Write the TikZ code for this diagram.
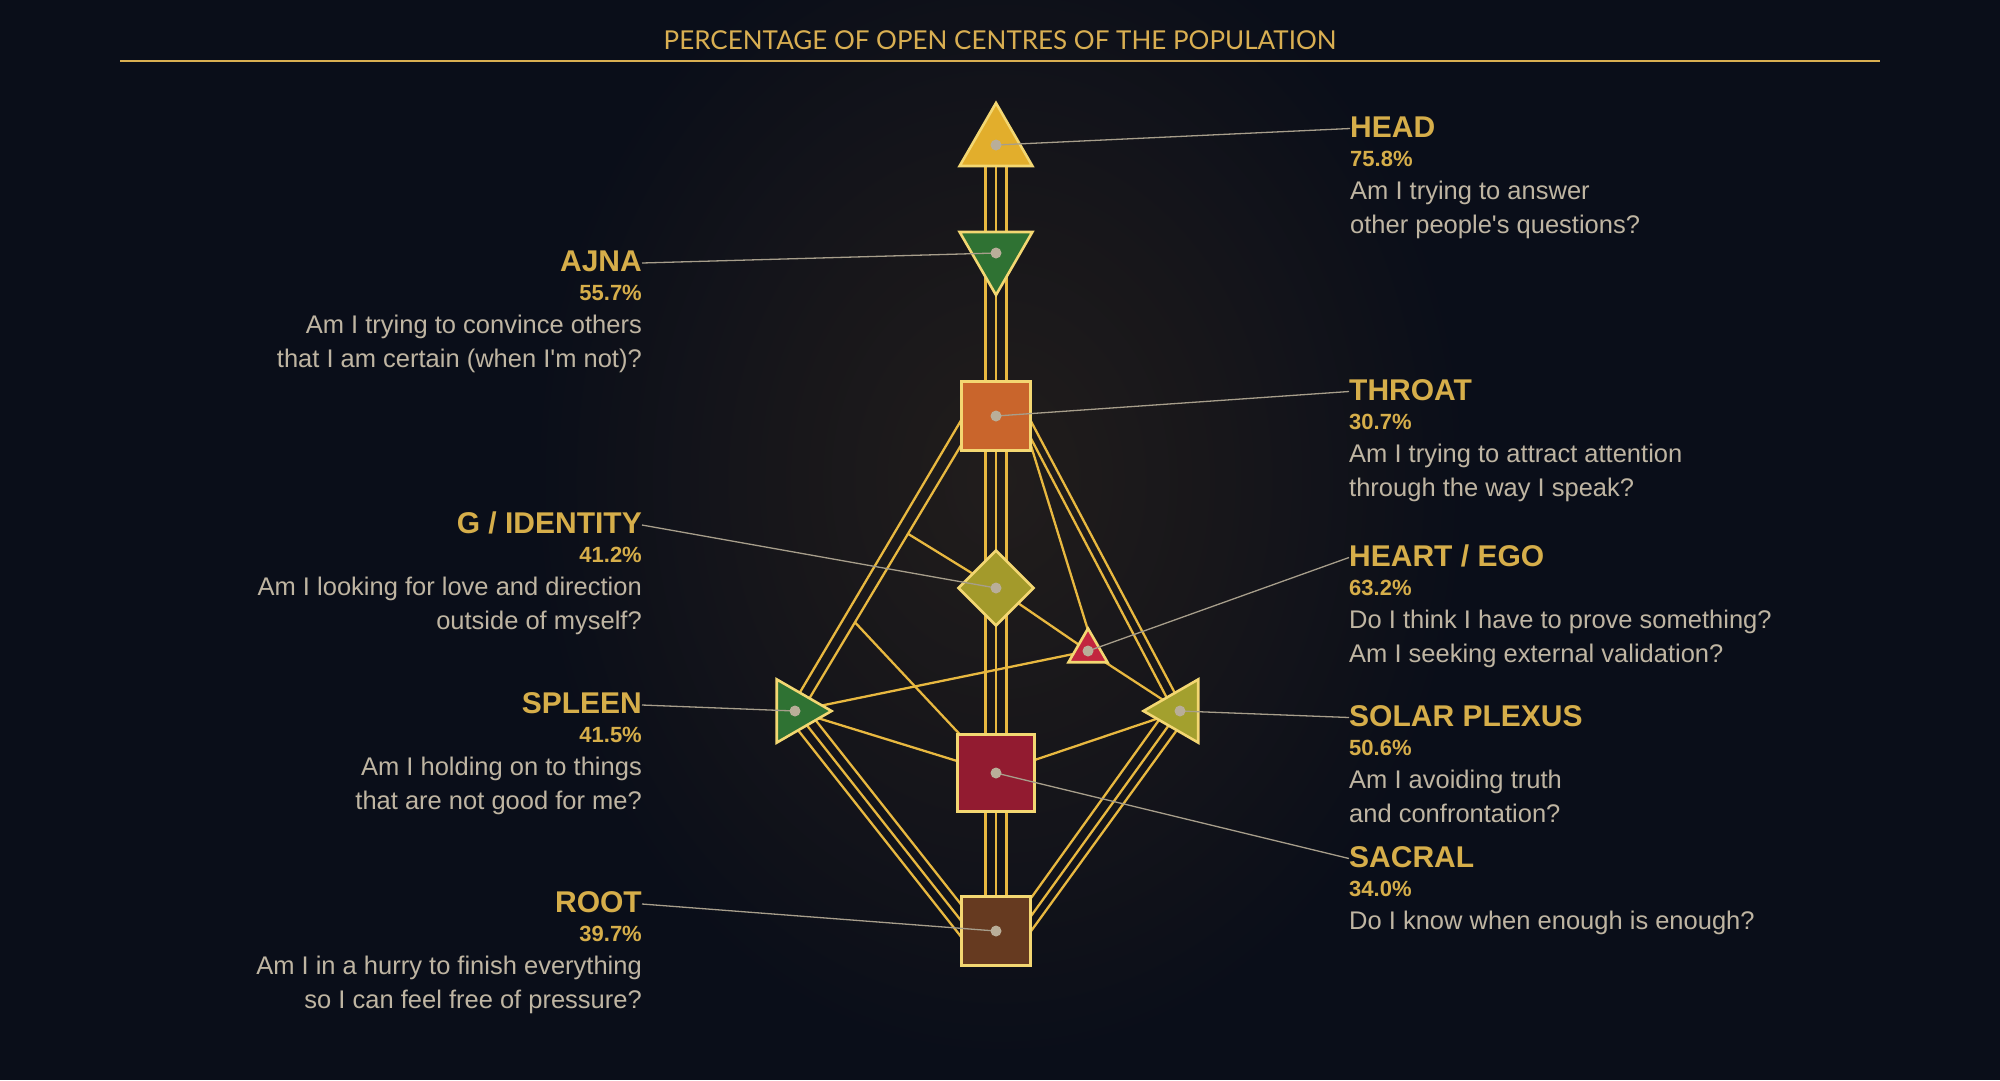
\documentclass[tikz,border=0pt]{standalone}
\usepackage{fontspec}
\newfontfamily\lsans{Liberation Sans}
\newfontfamily\latofont{Lato}
\usetikzlibrary{shapes.geometric,calc}
\definecolor{bgc}{HTML}{0A0E19}
\definecolor{glowc}{HTML}{211D1C}
\definecolor{glowm}{HTML}{17161A}
\definecolor{goldc}{HTML}{D6AE4A}
\definecolor{titc}{HTML}{D9AF52}
\definecolor{beigec}{HTML}{BFB5A2}
\definecolor{chanc}{HTML}{E8B840}
\definecolor{bordc}{HTML}{F3D772}
\definecolor{leadc}{HTML}{A79E8B}
\definecolor{dotcol}{HTML}{B9AE99}
\definecolor{headc}{HTML}{E2AE2C}
\definecolor{ajnac}{HTML}{2F7233}
\definecolor{throatc}{HTML}{C9652C}
\definecolor{gc}{HTML}{A39A2B}
\definecolor{heartc}{HTML}{C2263F}
\definecolor{spleenc}{HTML}{2F7233}
\definecolor{spc}{HTML}{A3A02E}
\definecolor{sacralc}{HTML}{921B30}
\definecolor{rootc}{HTML}{663A20}
\pgfdeclareradialshading{glow}{\pgfpoint{0bp}{0bp}}{color(0bp)=(glowc); color(12bp)=(glowm); color(25bp)=(bgc); color(50bp)=(bgc)}
\pgfdeclarelayer{back}
\pgfdeclarelayer{chan}
\pgfsetlayers{back,chan,main}
\tikzset{
  centre/.style={draw=bordc, line width=2.6pt, inner sep=0pt, outer sep=0pt},
  tri/.style={centre, regular polygon, regular polygon sides=3},
  sq/.style={centre, rectangle},
  chan/.style={draw=chanc, line width=2.3pt},
  lead/.style={draw=leadc, line width=1.3pt},
  dotc/.style={circle, fill=dotcol, inner sep=0pt, minimum size=11pt},
  ttl/.style={font=\lsans\fontsize{30}{36}\selectfont\bfseries, text=goldc, inner sep=0pt},
  pct/.style={font=\lsans\fontsize{22}{26}\selectfont\bfseries, text=goldc, inner sep=0pt},
  qst/.style={font=\lsans\fontsize{25.5}{30}\selectfont, text=beigec, inner sep=0pt},
}
\newcommand{\blockR}[7]{%
  \node[ttl, anchor=base west] (#1T) at (#2,#3) {#4};
  \node[pct, anchor=base west] (#1P) at (#2,#3+29.5) {#5};
  \node[qst, anchor=base west] (#1Q) at (#2,#3+62.5) {#6};
  \node[qst, anchor=base west] (#1R) at (#2,#3+96.5) {#7};
  \coordinate (#1L) at ($(#1T.base west)+(0,-8.5)$);
}
\newcommand{\blockL}[7]{%
  \node[ttl, anchor=base east] (#1T) at (#2,#3) {#4};
  \node[pct, anchor=base east] (#1P) at (#2,#3+29.5) {#5};
  \node[qst, anchor=base east] (#1Q) at (#2,#3+62.5) {#6};
  \node[qst, anchor=base east] (#1R) at (#2,#3+96.5) {#7};
  \coordinate (#1L) at ($(#1T.base east)+(0,-8)$);
}
\begin{document}
\begin{tikzpicture}[x=1pt,y=-1pt]
\useasboundingbox (0,0) rectangle (2000,1080);
\begin{pgfonlayer}{back}
  \fill[bgc] (0,0) rectangle (2000,1080);
  \shade[shading=glow] (1000,480) ellipse [x radius=470, y radius=580];
\end{pgfonlayer}

% title
\node[font=\latofont\fontsize{26}{31}\selectfont, text=titc, anchor=base, inner sep=0pt] (title) at (1000,49) {PERCENTAGE OF OPEN CENTRES OF THE POPULATION};
\coordinate (ruleL) at (120,61);
\coordinate (ruleR) at (1880,61);
\draw[draw=titc, line width=1.3pt] (ruleL) -- (ruleR);

% centres
\node[tri, fill=headc, minimum size=84pt] (head) at (996,145) {};
\node[tri, fill=ajnac, minimum size=84pt, shape border rotate=180] (ajna) at (996,253) {};
\node[sq, fill=throatc, minimum size=69pt] (throat) at (996,416) {};
\node[centre, diamond, fill=gc, minimum width=75pt, minimum height=75pt] (g) at (996,588) {};
\node[tri, fill=heartc, minimum size=45pt] (heart) at (1088,651) {};
\node[tri, fill=spleenc, minimum size=73pt, shape border rotate=-90] (spleen) at (795,711) {};
\node[tri, fill=spc, minimum size=73pt, shape border rotate=90] (sp) at (1180,711) {};
\node[sq, fill=sacralc, minimum size=77pt] (sacral) at (996,773) {};
\node[sq, fill=rootc, minimum size=69pt] (root) at (996,931) {};

% channels
\begin{pgfonlayer}{chan}
  \foreach \d in {-10.5,0,10.5} {
    \draw[chan] ($(head.center)+(\d,0)$) -- ($(ajna.center)+(\d,0)$);
    \draw[chan] ($(ajna.center)+(\d,0)$) -- ($(throat.center)+(\d,0)$);
    \draw[chan] ($(throat.center)+(\d,0)$) -- ($(g.center)+(\d,0)$);
    \draw[chan] ($(g.center)+(\d,0)$) -- ($(sacral.center)+(\d,0)$);
    \draw[chan] ($(sacral.center)+(\d,0)$) -- ($(root.center)+(\d,0)$);
  }
  % throat - spleen
  \coordinate (ts1a) at ($(throat.center)+(-30,-4)$);
  \coordinate (ts1b) at ($(spleen.center)+(1,-12)$);
  \coordinate (ts2a) at ($(throat.center)+(-30,21)$);
  \coordinate (ts2b) at ($(spleen.center)+(11,-7)$);
  \draw[chan] (ts1a) -- (ts1b);
  \draw[chan] (ts2a) -- (ts2b);
  \coordinate (j1) at ($(ts2a)!0.3625!(ts2b)$);
  \coordinate (j2) at ($(ts2a)!0.694!(ts2b)$);
  \draw[chan] (g.center) -- (j1);
  \draw[chan] (sacral.center) -- (j2);
  % throat - solar plexus
  \draw[chan] ($(throat.center)+(29,-6)$) -- ($(sp.center)+(-3,-14)$);
  \draw[chan] ($(throat.center)+(30,13)$) -- ($(sp.center)+(-11,-9)$);
  % throat - heart
  \draw[chan] ($(throat.center)+(32,20)$) -- ($(heart.center)+(3,-11)$);
  % spleen - root
  \draw[chan] ($(spleen.center)+(-5,9)$) -- ($(root.center)+(-30,12)$);
  \draw[chan] ($(spleen.center)+(3,3)$) -- ($(root.center)+(-22,6)$);
  \draw[chan] ($(spleen.center)+(11,-3)$) -- ($(root.center)+(-14,0)$);
  % solar plexus - root
  \draw[chan] ($(sp.center)+(-16,2)$) -- ($(root.center)+(30,-26)$);
  \draw[chan] ($(sp.center)+(-6,7)$) -- ($(root.center)+(30,-8)$);
  \draw[chan] ($(sp.center)+(2,12)$) -- ($(root.center)+(30,7)$);
  % single channels
  \draw[chan] (g.center) -- (heart.center);
  \draw[chan] (spleen.center) -- (heart.center);
  \draw[chan] (heart.center) -- (sp.center);
  \draw[chan] (spleen.center) -- (sacral.center);
  \draw[chan] (sp.center) -- (sacral.center);
\end{pgfonlayer}

% labels
\blockR{headlab}{1350}{137}{HEAD}{75.8\%}{Am I trying to answer}{other people's questions?}
\blockR{throatlab}{1349}{400}{THROAT}{30.7\%}{Am I trying to attract attention}{through the way I speak?}
\blockR{heartlab}{1349}{566}{HEART / EGO}{63.2\%}{Do I think I have to prove something?}{Am I seeking external validation?}
\blockR{splab}{1349}{726}{SOLAR PLEXUS}{50.6\%}{Am I avoiding truth}{and confrontation?}
\node[ttl, anchor=base west] (sacrallabT) at (1349,867) {SACRAL};
\node[pct, anchor=base west] (sacrallabP) at (1349,896.5) {34.0\%};
\node[qst, anchor=base west] (sacrallabQ) at (1349,929.5) {Do I know when enough is enough?};
\coordinate (sacrallabL) at ($(sacrallabT.base west)+(0,-8.5)$);

\blockL{ajnalab}{642}{271}{AJNA}{55.7\%}{Am I trying to convince others}{that I am certain (when I'm not)?}
\blockL{glab}{642}{533}{G / IDENTITY}{41.2\%}{Am I looking for love and direction}{outside of myself?}
\blockL{spleenlab}{642}{713}{SPLEEN}{41.5\%}{Am I holding on to things}{that are not good for me?}
\blockL{rootlab}{642}{912}{ROOT}{39.7\%}{Am I in a hurry to finish everything}{so I can feel free of pressure?}

% leaders
\draw[lead] (head.center) -- (headlabL);
\draw[lead] (ajna.center) -- (ajnalabL);
\draw[lead] (throat.center) -- (throatlabL);
\draw[lead] (g.center) -- (glabL);
\draw[lead] (heart.center) -- (heartlabL);
\draw[lead] (spleen.center) -- (spleenlabL);
\draw[lead] (sp.center) -- (splabL);
\draw[lead] (sacral.center) -- (sacrallabL);
\draw[lead] (root.center) -- (rootlabL);

% dots
\foreach \c in {head,ajna,throat,g,heart,spleen,sp,sacral,root} {
  \node[dotc] (\c D) at (\c.center) {};
}
\end{tikzpicture}
\end{document}
